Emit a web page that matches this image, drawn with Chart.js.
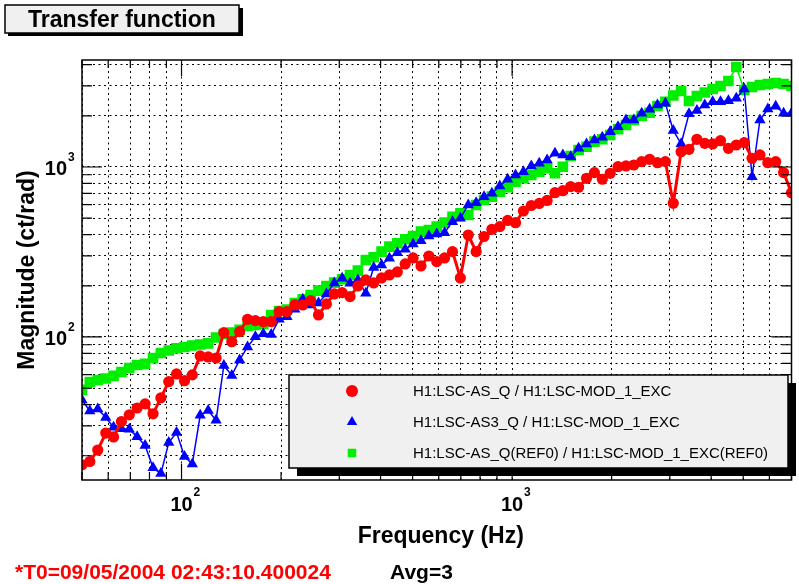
<!DOCTYPE html>
<html>
<head>
<meta charset="utf-8">
<script src="https://cdn.jsdelivr.net/npm/chart.js@4.4.1/dist/chart.umd.min.js"></script>
<style>
  body { margin: 0; background: #fff; }
  canvas { display: block; }
</style>
</head>
<body>
<canvas id="tf" width="799" height="584"></canvas>
<script>
// sweep frequencies (Hz)
const freqs = [50, 52.8, 55.8, 59.0, 62.3, 65.8, 69.5, 73.4, 77.6, 82.0,
  86.6, 91.5, 96.6, 102.1, 107.8, 113.9, 120.4, 127.2, 134.3, 141.9,
  149.9, 158.4, 167.3, 176.8, 186.8, 197.3, 208.4, 220.2, 232.6, 245.8,
  259.6, 274.3, 289.7, 306.1, 323.4, 341.6, 360.9, 381.3, 402.8, 425.5,
  449.5, 474.9, 501.7, 530.0, 559.9, 591.5, 624.9, 660.2, 697.4, 736.8,
  778.4, 822.3, 868.7, 917.7, 969.5, 1024, 1082, 1143, 1208, 1276,
  1348, 1424, 1504, 1589, 1679, 1774, 1874, 1980, 2091, 2210,
  2334, 2466, 2605, 2752, 2908, 3072, 3245, 3428, 3622, 3826,
  4042, 4270, 4511, 4766, 5035, 5319, 5619, 5936, 6271, 6625, 7000]

// magnitudes (ct/rad)
const asQ = [17.7, 18.5, 21.6, 27.2, 25.8, 31.8, 34.8, 38.2, 40.4, 35.3,
  43.8, 54.6, 60.6, 55.3, 59.8, 77.3, 76.3, 75.2, 106, 93.8,
  107.5, 127, 124.7, 123, 123, 140.9, 140.9, 154.3, 154.3, 163.5,
  134.7, 156.4, 179, 182.3, 172.6, 199.5, 216.4, 207.8, 222.4, 231.6,
  241.2, 268.9, 291.5, 261.6, 299.5, 277.3, 291.5, 317.6, 222.4, 398,
  317.6, 390, 430, 445.6, 484.5, 470.3, 551, 593.6, 610, 635.3,
  706, 725.4, 766, 759.7, 858, 926, 846.6, 918, 1004, 1014,
  1027, 1075, 1110, 1060, 1075, 611.6, 1230, 1271, 1455, 1378,
  1366, 1428, 1288, 1347, 1390, 1125, 1177, 1060, 1075, 926, 706]

const as3Q = [42.6, 36.7, 37.7, 33.6, 29.4, 28.8, 28.6, 25.9, 23.0, 17.0,
  15.7, 23.9, 27.4, 19.8, 17.9, 34.6, 36.9, 32.4, 68.0, 59.4,
  73.2, 87.3, 100.4, 104.6, 103.4, 127, 131.6, 145.5, 166.6, 154.3,
  158.5, 179, 207.8, 221.5, 207, 216.4, 180.7, 256.4, 265.2, 290.4,
  313.3, 328.1, 352.5, 368.6, 392.8, 403.6, 410.7, 476.7, 499.2, 597.7,
  616.6, 668.8, 700.4, 773.3, 846.6, 897.3, 938.5, 1014, 1051, 1100,
  1204, 1177, 1150, 1288, 1366, 1442, 1495, 1613, 1726, 1890,
  1890, 2070, 2185, 2316, 2370, 1640, 1369, 2055, 2150, 2316,
  2422, 2422, 2455, 2536, 2876, 877, 1890, 2194, 2279, 2070, 2070]

const asQRef = [48.8, 54.3, 55.8, 57.0, 59.0, 62.2, 65.7, 68.4, 69.4, 75.2,
  80.5, 83.3, 85.8, 87.3, 89.1, 90.3, 91.6, 99.3, 104.1, 106,
  110, 116, 117.6, 119.3, 134.7, 142.2, 145.1, 158.5, 166.6, 176.6,
  187.3, 199.5, 208.7, 218.5, 231.6, 245.5, 283.8, 294.3, 317.6, 339.8,
  355.8, 375.5, 392.8, 416.4, 426, 445.6, 470.3, 510, 534, 522,
  597.7, 639.7, 668.8, 715.7, 759.7, 819.5, 858, 897.3, 938.5, 982.7,
  918, 1004, 1161, 1259, 1316, 1409, 1455, 1543, 1666, 1766,
  1890, 1995, 2086, 2285, 2422, 2634, 2800, 2445, 2616, 2743,
  2876, 2996, 3206, 3874, 2838, 2955, 3037, 3078, 3120, 3078, 2996]

const seriesLabels = [
  'H1:LSC-AS_Q / H1:LSC-MOD_1_EXC',
  'H1:LSC-AS3_Q / H1:LSC-MOD_1_EXC',
  'H1:LSC-AS_Q(REF0) / H1:LSC-MOD_1_EXC(REF0)'
]

// grid lines and labelled decades
const xGrid = [50, 60, 70, 80, 90, 100, 200, 300, 400, 500, 600, 700, 800, 900, 1000, 2000, 3000, 4000, 5000, 6000, 7000]
const yGrid = [20, 30, 40, 50, 60, 70, 80, 90, 100, 200, 300, 400, 500, 600, 700, 800, 900, 1000, 2000, 3000, 4000]
const decades = [100, 1000]

const FONT = '"Liberation Sans", Arial, sans-serif'

const pts = vals => freqs.map((f, i) => ({x: f, y: vals[i]}))

const drawMarker = (ctx, style, x, y, r, color) => {
  ctx.fillStyle = color
  ctx.beginPath()
  if (style == 'circle') {
    ctx.arc(x, y, r, 0, Math.PI * 2)
  } else if (style == 'triangle') {
    ctx.moveTo(x, y - r)
    ctx.lineTo(x + r * 0.87, y + r * 0.5)
    ctx.lineTo(x - r * 0.87, y + r * 0.5)
    ctx.closePath()
  } else {
    ctx.rect(x - r * 0.71, y - r * 0.71, r * 1.42, r * 1.42)
  }
  ctx.fill()
}

const decor = {
  id: 'decor',
  beforeDraw(chart) {
    const ctx = chart.ctx
    ctx.save()
    ctx.fillStyle = '#fff'
    ctx.fillRect(0, 0, chart.width, chart.height)
    ctx.restore()
  },
  afterDraw(chart) {
    const ctx = chart.ctx
    const {left, right, top, bottom} = chart.chartArea
    const xs = chart.scales.x, ys = chart.scales.y
    ctx.save()

    // frame + inward ticks
    ctx.strokeStyle = '#000'
    ctx.lineWidth = 1.5
    ctx.strokeRect(left, top, right - left, bottom - top)
    ctx.lineWidth = 1.2
    ctx.beginPath()
    xGrid.forEach(v => {
      const px = xs.getPixelForValue(v)
      const len = decades.includes(v) ? 16 : 8
      ctx.moveTo(px, bottom); ctx.lineTo(px, bottom - len)
      ctx.moveTo(px, top); ctx.lineTo(px, top + len)
    })
    yGrid.forEach(v => {
      const py = ys.getPixelForValue(v)
      const len = decades.includes(v) ? 20 : 10
      ctx.moveTo(left, py); ctx.lineTo(left + len, py)
      ctx.moveTo(right, py); ctx.lineTo(right - len, py)
    })
    ctx.stroke()

    // decade labels 10^n
    ctx.fillStyle = '#000'
    decades.forEach(v => {
      const n = String(Math.round(Math.log10(v)))
      const px = xs.getPixelForValue(v)
      ctx.font = 'bold 20px ' + FONT
      ctx.textAlign = 'center'
      ctx.textBaseline = 'alphabetic'
      ctx.fillText('10', px, 511)
      ctx.font = 'bold 12px ' + FONT
      ctx.textAlign = 'left'
      ctx.fillText(n, px + 12, 496)

      const py = ys.getPixelForValue(v)
      ctx.font = 'bold 20px ' + FONT
      ctx.textAlign = 'right'
      ctx.fillText('10', 67, py + 8)
      ctx.font = 'bold 12px ' + FONT
      ctx.textAlign = 'left'
      ctx.fillText(n, 68, py - 6)
    })

    // axis titles
    ctx.font = 'bold 23px ' + FONT
    ctx.textAlign = 'center'
    ctx.fillText('Frequency (Hz)', (left + right) / 2 + 4, 543)
    ctx.save()
    ctx.translate(34, (top + bottom) / 2)
    ctx.rotate(-Math.PI / 2)
    ctx.fillText('Magnitude (ct/rad)', 0, 0)
    ctx.restore()

    // title box
    ctx.fillStyle = '#000'
    ctx.fillRect(8, 8, 235, 28)
    ctx.fillStyle = '#f0f0f0'
    ctx.fillRect(5, 5, 234, 28)
    ctx.lineWidth = 1.5
    ctx.strokeRect(5, 5, 234, 28)
    ctx.fillStyle = '#000'
    ctx.font = 'bold 23px ' + FONT
    ctx.textAlign = 'left'
    ctx.fillText('Transfer function', 28, 27)

    // footer
    ctx.font = 'bold 21px ' + FONT
    ctx.fillStyle = '#ff0000'
    ctx.fillText('*T0=09/05/2004 02:43:10.400024', 15, 579)
    ctx.fillStyle = '#000'
    ctx.fillText('Avg=3', 390, 579)

    // legend
    const lx = 289, ly = 375, lw = 499, lh = 93
    ctx.fillStyle = '#000'
    ctx.fillRect(lx + 8, ly + 8, lw, lh)
    ctx.fillStyle = '#f0f0f0'
    ctx.fillRect(lx, ly, lw, lh)
    ctx.lineWidth = 1.5
    ctx.strokeRect(lx, ly, lw, lh)
    ctx.font = '15px ' + FONT
    ctx.textBaseline = 'middle'
    chart.data.datasets.forEach((ds, i) => {
      const yy = ly + 16 + i * 31
      drawMarker(ctx, ds.pointStyle, lx + 63, yy, 6, ds.backgroundColor)
      ctx.fillStyle = '#000'
      ctx.fillText(ds.label, lx + 124, yy + 1)
    })
    ctx.restore()
  }
}

const ctx = document.getElementById('tf').getContext('2d')
const tfChart = new Chart(ctx, {
  type: 'line',
  data: {
    datasets: [{
      label: seriesLabels[0],
      data: pts(asQ),
      borderColor: '#ff0000',
      backgroundColor: '#ff0000',
      borderWidth: 3,
      pointStyle: 'circle',
      pointRadius: 5.6,
      pointBorderWidth: 0
    }, {
      label: seriesLabels[1],
      data: pts(as3Q),
      borderColor: '#0000ff',
      backgroundColor: '#0000ff',
      borderWidth: 1.5,
      pointStyle: 'triangle',
      pointRadius: 6.5,
      pointBorderWidth: 0
    }, {
      label: seriesLabels[2],
      data: pts(asQRef),
      borderColor: '#00ee00',
      backgroundColor: '#00ee00',
      borderWidth: 1.5,
      pointStyle: 'rect',
      pointRadius: 7.5,
      pointBorderWidth: 0
    }]
  },
  options: {
    responsive: false,
    devicePixelRatio: 1,
    animation: false,
    layout: {padding: {top: 60, right: 2, left: 0, bottom: 0}},
    plugins: {legend: {display: false}, tooltip: {enabled: false}},
    elements: {line: {tension: 0}},
    scales: {
      x: {
        type: 'logarithmic',
        min: 50,
        max: 7000,
        afterFit: s => { s.height = 104 },
        afterBuildTicks: s => { s.ticks = xGrid.map(v => ({value: v})) },
        ticks: {display: false},
        grid: {color: '#000', lineWidth: 1, drawTicks: false},
        border: {display: false, dash: [2, 3.5]}
      },
      y: {
        type: 'logarithmic',
        min: 14.4,
        max: 4260,
        afterFit: s => { s.width = 82 },
        afterBuildTicks: s => { s.ticks = yGrid.map(v => ({value: v})) },
        ticks: {display: false},
        grid: {color: '#000', lineWidth: 1, drawTicks: false},
        border: {display: false, dash: [2, 3.5]}
      }
    }
  },
  plugins: [decor]
})
</script>
</body>
</html>
